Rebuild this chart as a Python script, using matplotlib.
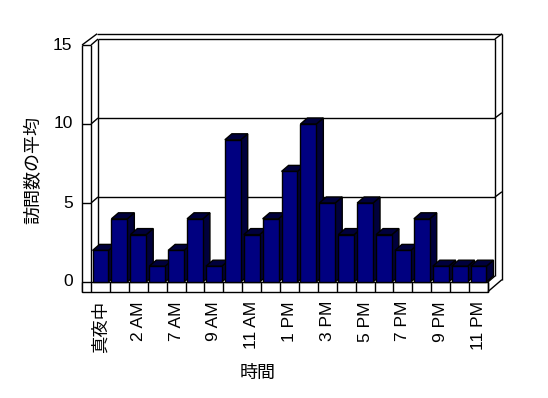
import matplotlib
matplotlib.use('Agg')
import matplotlib.pyplot as plt

# data ------------------------------------------------------------
hours = ['真夜中', '1 AM', '2 AM', '6 AM', '7 AM', '8 AM', '9 AM', '10 AM',
         '11 AM', '12 PM', '1 PM', '2 PM', '3 PM', '4 PM', '5 PM', '6 PM',
         '7 PM', '8 PM', '9 PM', '10 PM', '11 PM']
visits = [2, 4, 3, 1, 2, 4, 1, 9, 3, 4, 7, 10, 5, 3, 5, 3, 2, 4, 1, 1, 1]
yticks = [0, 5, 10, 15]
ylabel = '訪問数の平均'
xlabel = '時間'

plt.rcParams['font.family'] = ['Liberation Sans', 'Noto Sans CJK JP']

# pixel scale of the old-style 3D chart
sx, sy = 18.9, 15.8      # px per category / px per unit
ox, oy = 100.5, 282.0    # pixel of category 0 / value 0
W, H = 548, 398

fig = plt.figure(figsize=(W / 100, H / 100), dpi=100)
ax = fig.add_axes([0, 0, 1, 1])
ax.set_xlim((0 - ox) / sx, (W - ox) / sx)
ax.set_ylim((oy - H) / sy, oy / sy)
ax.axis('off')

n = len(visits)
ymax = yticks[-1]
dx, dy = 0.37, 0.38          # depth offset
tx, ty = 0.37, 0.33          # wall thickness
lw_wall = 9 / sx             # left wall thickness
fb = -0.61                   # floor bottom
xl, xr = -0.5, n - 0.5
k = dict(color='black', lw=1.0, solid_capstyle='butt', zorder=2)

# left wall
ax.plot([xl - lw_wall, xl - lw_wall], [fb, ymax], **k)
ax.plot([xl, xl], [0, ymax], **k)
ax.plot([xl - lw_wall, xl], [ymax, ymax], **k)
ax.plot([xl - lw_wall, xl + dx - 0.05], [ymax, ymax + dy + ty], **k)
ax.plot([xl, xl + dx], [ymax, ymax + dy], **k)
ax.plot([xl + dx, xl + dx], [dy, ymax + dy], **k)

# back wall
ax.plot([xl + dx, xr + dx], [ymax + dy, ymax + dy], **k)
ax.plot([xl + dx - 0.05, xr + dx + tx], [ymax + dy + ty, ymax + dy + ty], **k)
ax.plot([xr + dx, xr + dx], [dy, ymax + dy], **k)
ax.plot([xr + dx + tx, xr + dx + tx], [fb + 2 * dy, ymax + dy + ty], **k)
ax.plot([xr + dx, xr + dx + tx], [ymax + dy, ymax + dy + ty], **k)

# gridlines and ticks
for v in yticks[1:-1]:
    ax.plot([xl + dx, xr + dx], [v + dy, v + dy], **k)
    ax.plot([xl, xl + dx], [v, v + dy], **k)
    ax.plot([xl - lw_wall, xl], [v, v], **k)
    ax.plot([xr + dx, xr + dx + tx], [v + dy, v + dy + ty], **k)
for v in yticks:
    ax.text(xl - lw_wall - 0.5, v, str(v), ha='right', va='center',
            fontsize=12.5, color='black')

# floor
ax.fill([xl - lw_wall, xr, xr, xl - lw_wall], [fb, fb, 0, 0],
        facecolor='white', edgecolor='black', lw=1.0, zorder=2)
for i in range(n + 1):
    ax.plot([xl + i, xl + i], [fb, 0], **k)
ax.plot([xr, xr + dx + tx], [fb, fb + 2 * dy], **k)
ax.plot([xr, xr + dx], [0, dy], **k)

# bars
hw = 0.42
front = '#000080'
shade = '#00003c'
for i, v in enumerate(visits):
    z = 3 + i
    ax.fill([i + hw, i + hw + dx, i + hw + dx, i + hw],
            [0, dy, v + dy, v], facecolor=shade, edgecolor='black',
            lw=1.0, zorder=z)
    ax.fill([i - hw, i - hw + dx, i + hw + dx, i + hw],
            [v, v + dy, v + dy, v], facecolor=shade, edgecolor='black',
            lw=1.0, zorder=z)
    ax.fill([i - hw, i + hw, i + hw, i - hw], [0, 0, v, v],
            facecolor=front, edgecolor='black', lw=1.0, zorder=z)

# category labels
for i in range(0, n, 2):
    ax.text(i, fb - 0.6, hours[i], rotation=90, ha='center', va='top',
            fontsize=12.5, color='black')

ax.text(-3.5, 7.1, ylabel, rotation=90, ha='center', va='center',
        fontsize=13, color='black')
ax.text(8.3, -5.8, xlabel, ha='center', va='center', fontsize=13,
        color='black')

fig.savefig('out.png', dpi=100)
